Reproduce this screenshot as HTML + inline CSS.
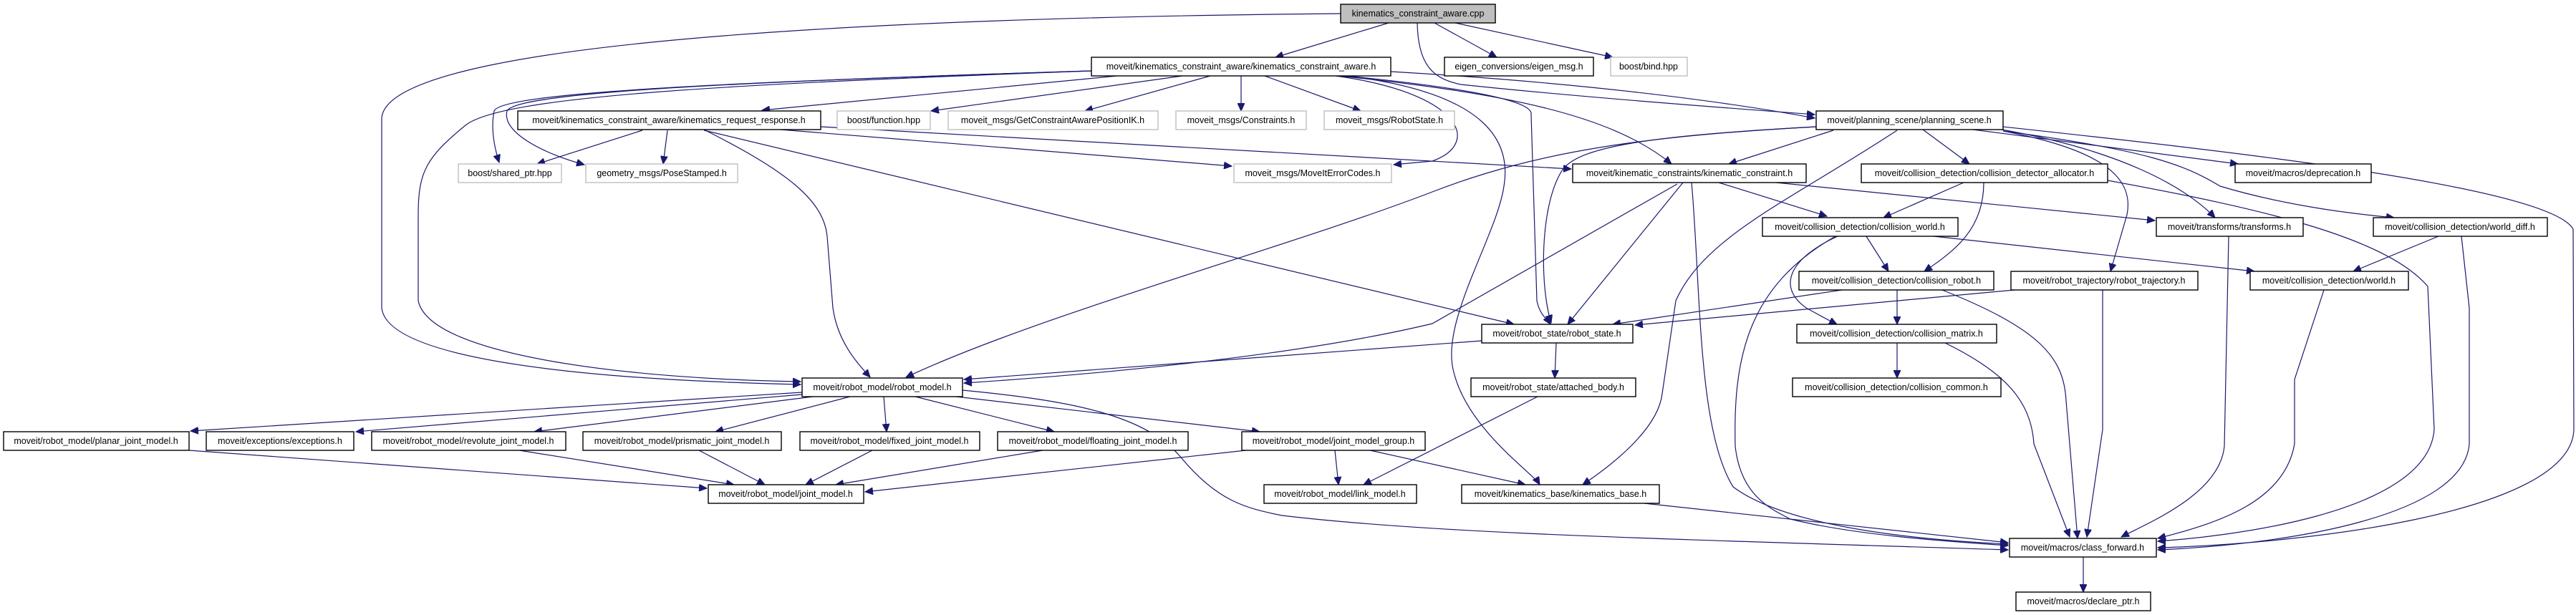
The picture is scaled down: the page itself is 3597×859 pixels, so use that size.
<!DOCTYPE html>
<html><head><meta charset="utf-8"><style>
html,body{margin:0;padding:0;background:#fff;}
svg{display:block;}
text{font-family:"Liberation Sans",sans-serif;font-size:12.5px;fill:#000;text-anchor:middle;}
.n{fill:#fff;stroke:#000;stroke-width:1.4;}
.g{fill:#fff;stroke:#bfbfbf;stroke-width:1.4;}
.r{fill:#bfbfbf;stroke:#000;stroke-width:1.4;}
path{fill:none;stroke:#191970;stroke-width:1.2;}
</style></head><body>
<svg width="3597" height="859" viewBox="0 0 3597 859" xmlns="http://www.w3.org/2000/svg">
<defs><marker id="a" markerUnits="userSpaceOnUse" markerWidth="12" markerHeight="10" refX="11" refY="5" orient="auto"><polygon points="0,0 11,5 0,10" fill="#191970" stroke="#191970"/></marker></defs>
<g marker-end="url(#a)">
<!-- root -->
<path d="M1939,32 L1781,80"/>
<path d="M2003,32 L2090,80"/>
<path d="M2032,32 L2252,80"/>
<path d="M1979,32 C1980,90 2000,110 2040,118 C2200,135 2400,150 2534,160"/>
<path d="M1872,19 C1200,25 540,60 533,165 L533,430 C540,500 800,530 1118,537"/>
<!-- kca -->
<path d="M1560,106 L1064,154"/>
<path d="M1524,99 C1000,115 700,130 690,155 C685,180 690,205 697,227"/>
<path d="M1524,99 C1000,115 720,130 708,155 C700,185 760,215 816,230"/>
<path d="M1524,99 C1000,118 700,135 650,175 C595,220 584,240 584,300 L584,420 C600,500 900,530 1118,533"/>
<path d="M1651,106 L1300,155"/>
<path d="M1690,106 L1515,155"/>
<path d="M1733,106 L1733,155"/>
<path d="M1766,106 L1900,155"/>
<path d="M1865,106 C2040,130 2070,200 2000,225 L1946,230"/>
<path d="M1880,106 C2120,130 2140,150 2138,160 L2146,420 C2150,440 2160,445 2165,453"/>
<path d="M1870,106 C2100,130 2250,160 2334,229"/>
<path d="M1880,106 C2080,130 2110,200 2100,260 C2090,330 2010,450 2030,520 C2050,600 2140,660 2150,677"/>
<path d="M1942,100 C2200,115 2400,140 2534,165"/>
<!-- krr -->
<path d="M897,182 L750,229"/>
<path d="M932,182 L926,229"/>
<path d="M983,181 C1100,240 1150,280 1155,330 L1163,430 C1170,480 1200,510 1215,527"/>
<path d="M983,182 L2114,453"/>
<path d="M1090,181 L1720,232"/>
<path d="M1146,177 L2194,236"/>
<!-- planning scene -->
<path d="M2536,177 C2300,190 2200,205 2180,240 C2150,290 2150,400 2166,451"/>
<path d="M2536,177 C2300,190 2150,210 2000,268 C1800,345 1450,440 1265,527"/>
<path d="M2560,182 L2414,229"/>
<path d="M2649,182 C2500,280 2380,330 2340,420 L2321,550 C2315,600 2250,650 2210,677"/>
<path d="M2685,181 L2750,229"/>
<path d="M2755,181 L3125,229"/>
<path d="M2795,181 C2960,210 3050,260 3093,304"/>
<path d="M2797,183 C3000,210 3050,230 3100,260 C3200,290 3300,300 3343,304"/>
<path d="M2797,183 C2940,210 2980,250 2970,300 L2947,379"/>
<path d="M2797,177 C3100,210 3560,260 3593,320 L3594,600 C3590,720 3200,760 3013,765"/>
<!-- kinematic constraint -->
<path d="M2350,255 L2189,453"/>
<path d="M2342,257 L2000,452 C1800,500 1500,525 1346,535"/>
<path d="M2362,255 C2375,400 2370,600 2420,680 C2500,740 2700,755 2804,760"/>
<path d="M2400,255 L2551,302"/>
<path d="M2480,255 L3009,308"/>
<!-- cda -->
<path d="M2742,255 L2630,304"/>
<path d="M2770,255 C2770,320 2730,350 2687,379"/>
<path d="M2943,252 C3150,290 3330,330 3390,400 L3399,600 C3390,720 3100,750 3013,756"/>
<!-- collision world -->
<path d="M2606,330 L2637,379"/>
<path d="M2700,330 L3148,379"/>
<path d="M2566,330 C2500,360 2480,400 2522,430 C2540,440 2555,448 2565,453"/>
<path d="M2563,330 C2440,400 2420,500 2423,623 C2430,690 2470,710 2500,725 C2600,750 2750,758 2804,762"/>
<!-- collision robot -->
<path d="M2649,405 L2649,453"/>
<path d="M2572,405 L2252,453"/>
<path d="M2712,405 C2850,460 2882,500 2885,560 L2901,752"/>
<!-- trajectory -->
<path d="M2813,405 L2283,454"/>
<path d="M2936,405 L2936,600 L2914,750"/>
<!-- collision matrix -->
<path d="M2649,479 L2649,528"/>
<path d="M2716,479 C2800,520 2836,560 2840,620 L2890,750"/>
<!-- transforms / world / world_diff -->
<path d="M3112,330 L3106,623 C3100,690 3000,730 2962,750"/>
<path d="M3245,405 L3204,530 L3204,620 C3190,700 3100,730 3013,752"/>
<path d="M3405,330 L3286,379"/>
<path d="M3437,330 L3448,430 L3448,620 C3440,720 3200,760 3013,768"/>
<!-- robot state -->
<path d="M2173,479 L2171,528"/>
<path d="M2069,476 L1346,530"/>
<!-- robot model -->
<path d="M1120,548 L266,602"/>
<path d="M1120,551 L497,603"/>
<path d="M1135,554 L746,603"/>
<path d="M1187,554 L999,603"/>
<path d="M1234,554 L1238,603"/>
<path d="M1278,554 L1472,603"/>
<path d="M1335,554 L1759,603"/>
<path d="M1344,545 C1500,560 1600,580 1650,640 C1700,700 1740,710 1790,720 C2000,745 2300,752 2804,768"/>
<!-- joint models -->
<path d="M264,629 L987,682"/>
<path d="M725,629 L1025,677"/>
<path d="M976,629 L1068,677"/>
<path d="M1218,629 L1125,677"/>
<path d="M1456,629 L1167,677"/>
<path d="M1740,629 L1208,687"/>
<path d="M1864,629 L1869,677"/>
<path d="M1913,629 L2130,677"/>
<path d="M2147,554 L1904,677"/>
<path d="M2296,703 L2804,758"/>
<path d="M2909,778 L2909,827"/>
</g>
<!-- nodes -->
<rect class="r" x="1872" y="6" width="216" height="26"/><text x="1980" y="23">kinematics_constraint_aware.cpp</text>
<rect class="n" x="1524" y="80" width="418" height="26"/><text x="1733" y="97">moveit/kinematics_constraint_aware/kinematics_constraint_aware.h</text>
<rect class="n" x="2017" y="80" width="208" height="26"/><text x="2121" y="97">eigen_conversions/eigen_msg.h</text>
<rect class="g" x="2249" y="80" width="107" height="26"/><text x="2302" y="97">boost/bind.hpp</text>
<rect class="n" x="723" y="155" width="423" height="26"/><text x="934" y="172">moveit/kinematics_constraint_aware/kinematics_request_response.h</text>
<rect class="g" x="1169" y="155" width="130" height="26"/><text x="1234" y="172">boost/function.hpp</text>
<rect class="g" x="1324" y="155" width="293" height="26"/><text x="1470" y="172">moveit_msgs/GetConstraintAwarePositionIK.h</text>
<rect class="g" x="1642" y="155" width="182" height="26"/><text x="1733" y="172">moveit_msgs/Constraints.h</text>
<rect class="g" x="1849" y="155" width="182" height="26"/><text x="1940" y="172">moveit_msgs/RobotState.h</text>
<rect class="n" x="2536" y="155" width="261" height="26"/><text x="2666" y="172">moveit/planning_scene/planning_scene.h</text>
<rect class="g" x="640" y="229" width="144" height="26"/><text x="712" y="246">boost/shared_ptr.hpp</text>
<rect class="g" x="818" y="229" width="212" height="26"/><text x="924" y="246">geometry_msgs/PoseStamped.h</text>
<rect class="g" x="1723" y="229" width="220" height="26"/><text x="1833" y="246">moveit_msgs/MoveItErrorCodes.h</text>
<rect class="n" x="2196" y="229" width="326" height="26"/><text x="2359" y="246">moveit/kinematic_constraints/kinematic_constraint.h</text>
<rect class="n" x="2599" y="229" width="344" height="26"/><text x="2771" y="246">moveit/collision_detection/collision_detector_allocator.h</text>
<rect class="n" x="3121" y="229" width="190" height="26"/><text x="3216" y="246">moveit/macros/deprecation.h</text>
<rect class="n" x="2461" y="304" width="273" height="26"/><text x="2597" y="321">moveit/collision_detection/collision_world.h</text>
<rect class="n" x="3011" y="304" width="205" height="26"/><text x="3113" y="321">moveit/transforms/transforms.h</text>
<rect class="n" x="3314" y="304" width="243" height="26"/><text x="3435" y="321">moveit/collision_detection/world_diff.h</text>
<rect class="n" x="2512" y="379" width="272" height="26"/><text x="2648" y="396">moveit/collision_detection/collision_robot.h</text>
<rect class="n" x="2808" y="379" width="261" height="26"/><text x="2938" y="396">moveit/robot_trajectory/robot_trajectory.h</text>
<rect class="n" x="3142" y="379" width="221" height="26"/><text x="3252" y="396">moveit/collision_detection/world.h</text>
<rect class="n" x="2069" y="453" width="211" height="26"/><text x="2174" y="470">moveit/robot_state/robot_state.h</text>
<rect class="n" x="2509" y="453" width="279" height="26"/><text x="2648" y="470">moveit/collision_detection/collision_matrix.h</text>
<rect class="n" x="1120" y="528" width="224" height="26"/><text x="1232" y="545">moveit/robot_model/robot_model.h</text>
<rect class="n" x="2054" y="528" width="230" height="26"/><text x="2169" y="545">moveit/robot_state/attached_body.h</text>
<rect class="n" x="2503" y="528" width="291" height="26"/><text x="2648" y="545">moveit/collision_detection/collision_common.h</text>
<rect class="n" x="5" y="603" width="259" height="26"/><text x="134" y="620">moveit/robot_model/planar_joint_model.h</text>
<rect class="n" x="288" y="603" width="206" height="26"/><text x="391" y="620">moveit/exceptions/exceptions.h</text>
<rect class="n" x="519" y="603" width="271" height="26"/><text x="654" y="620">moveit/robot_model/revolute_joint_model.h</text>
<rect class="n" x="814" y="603" width="277" height="26"/><text x="952" y="620">moveit/robot_model/prismatic_joint_model.h</text>
<rect class="n" x="1117" y="603" width="251" height="26"/><text x="1242" y="620">moveit/robot_model/fixed_joint_model.h</text>
<rect class="n" x="1393" y="603" width="266" height="26"/><text x="1526" y="620">moveit/robot_model/floating_joint_model.h</text>
<rect class="n" x="1734" y="603" width="256" height="26"/><text x="1862" y="620">moveit/robot_model/joint_model_group.h</text>
<rect class="n" x="989" y="677" width="217" height="26"/><text x="1097" y="694">moveit/robot_model/joint_model.h</text>
<rect class="n" x="1765" y="677" width="213" height="26"/><text x="1871" y="694">moveit/robot_model/link_model.h</text>
<rect class="n" x="2041" y="677" width="276" height="26"/><text x="2179" y="694">moveit/kinematics_base/kinematics_base.h</text>
<rect class="n" x="2806" y="752" width="205" height="26"/><text x="2908" y="769">moveit/macros/class_forward.h</text>
<rect class="n" x="2815" y="827" width="188" height="26"/><text x="2909" y="844">moveit/macros/declare_ptr.h</text>
</svg>
</body></html>
